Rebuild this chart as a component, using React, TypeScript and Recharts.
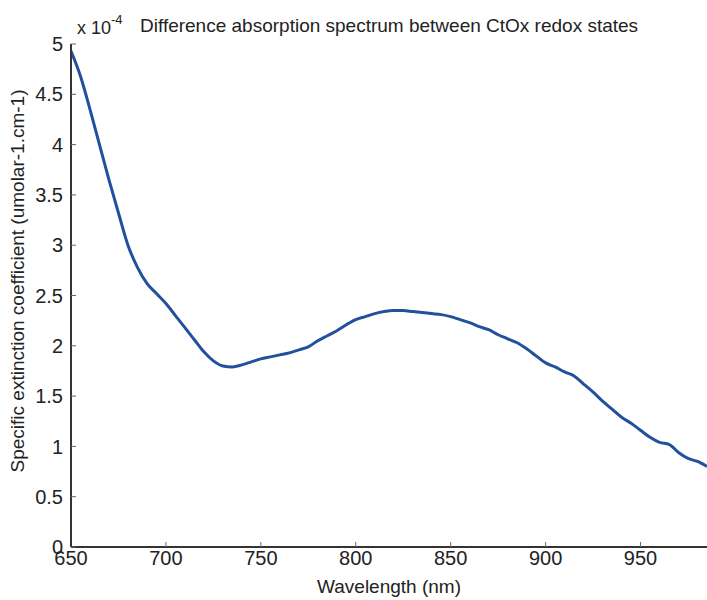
import { Label, Line, LineChart, XAxis, YAxis } from "recharts";

// wavelength (nm) and extinction coefficient (x 1e-4)
const wavelengths = [
  650, 655, 660, 665, 670, 675, 680, 685, 690, 695, 700, 705, 710, 715, 720,
  725, 730, 735, 740, 745, 750, 755, 760, 765, 770, 775, 780, 785, 790, 795,
  800, 805, 810, 815, 820, 825, 830, 835, 840, 845, 850, 855, 860, 865, 870,
  875, 880, 885, 890, 895, 900, 905, 910, 915, 920, 925, 930, 935, 940, 945,
  950, 955, 960, 965, 970, 975, 980, 985,
];
const coefficients = [
  4.93, 4.68, 4.35, 4.0, 3.65, 3.32, 3.0, 2.78, 2.62, 2.52, 2.42, 2.3, 2.18,
  2.06, 1.94, 1.85, 1.8, 1.79, 1.81, 1.84, 1.87, 1.89, 1.91, 1.93, 1.96, 1.99,
  2.05, 2.1, 2.15, 2.21, 2.26, 2.29, 2.32, 2.34, 2.35, 2.35, 2.34, 2.33, 2.32,
  2.31, 2.29, 2.26, 2.23, 2.19, 2.16, 2.11, 2.07, 2.03, 1.97, 1.9, 1.83, 1.79,
  1.74, 1.7, 1.62, 1.54, 1.45, 1.37, 1.29, 1.23, 1.16, 1.09, 1.04, 1.02, 0.94,
  0.88, 0.85, 0.8,
];
const xTicks = [650, 700, 750, 800, 850, 900, 950];
const yTicks = [0, 0.5, 1, 1.5, 2, 2.5, 3, 3.5, 4, 4.5, 5];

const data = wavelengths.map((w, i) => ({ w, v: coefficients[i] }));

const font = "'Liberation Sans', Arial, sans-serif";
const axisColor = "#333";
const tickText = { fill: "#222", fontSize: 20, fontFamily: font };
const tickLine = { stroke: "#666", strokeWidth: 1 };

export default function App() {
  return (
    <div
      style={{
        position: "absolute",
        left: 0,
        top: 0,
        width: 707,
        height: 600,
        background: "#fff",
        fontFamily: font,
        color: "#222",
      }}
    >
      <div style={{ position: "absolute", left: 77, top: 15, fontSize: 18 }}>
        x 10
        <sup style={{ fontSize: 13, position: "relative", top: -3 }}>-4</sup>
      </div>
      <div style={{ position: "absolute", left: 140, top: 15, fontSize: 19 }}>
        Difference absorption spectrum between CtOx redox states
      </div>
      <div
        style={{
          position: "absolute",
          left: 18,
          top: 281,
          fontSize: 19,
          whiteSpace: "nowrap",
          transform: "translate(-50%, -50%) rotate(-90deg)",
        }}
      >
        Specific extinction coefficient (umolar-1.cm-1)
      </div>
      <LineChart
        width={707}
        height={600}
        data={data}
        margin={{ top: 44, right: 0, bottom: 23, left: 31 }}
      >
        <XAxis
          xAxisId="top"
          orientation="top"
          dataKey="w"
          type="number"
          domain={[650, 985]}
          ticks={xTicks}
          allowDataOverflow
          height={0}
          tickSize={-5}
          tickLine={tickLine}
          tickFormatter={() => ""}
          stroke={axisColor}
          strokeWidth={1.5}
        />
        <XAxis
          dataKey="w"
          type="number"
          domain={[650, 985]}
          ticks={xTicks}
          allowDataOverflow
          height={30}
          tickSize={-5}
          tickMargin={9}
          tickLine={tickLine}
          tick={tickText}
          fontSize={20}
          stroke={axisColor}
          strokeWidth={2}
        >
          <Label
            value="Wavelength (nm)"
            position="bottom"
            offset={3}
            style={{ fill: "#222", fontSize: 19, fontFamily: font }}
          />
        </XAxis>
        <YAxis
          type="number"
          domain={[0, 5]}
          ticks={yTicks}
          width={40}
          tickSize={-5}
          tickMargin={13}
          tickLine={tickLine}
          tick={tickText}
          fontSize={20}
          stroke={axisColor}
          strokeWidth={2}
        />
        <Line
          type="monotone"
          dataKey="v"
          xAxisId={0}
          stroke="#21509e"
          strokeWidth={3}
          dot={false}
          isAnimationActive={false}
        />
      </LineChart>
    </div>
  );
}
